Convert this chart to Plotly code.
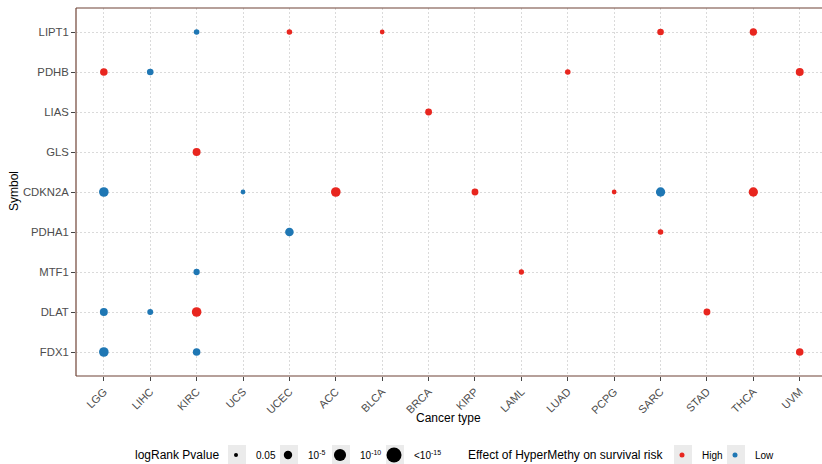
import numpy as np
import plotly.graph_objects as go

# ---------------- data ----------------
cancer_types = ["LGG", "LIHC", "KIRC", "UCS", "UCEC", "ACC", "BLCA", "BRCA",
                "KIRP", "LAML", "LUAD", "PCPG", "SARC", "STAD", "THCA", "UVM"]
gene_symbols = ["FDX1", "DLAT", "MTF1", "PDHA1", "CDKN2A", "GLS", "LIAS", "PDHB", "LIPT1"]  # bottom -> top

pt_symbol = ["LIPT1", "LIPT1", "LIPT1", "LIPT1", "LIPT1",
             "PDHB", "PDHB", "PDHB", "PDHB",
             "LIAS",
             "GLS",
             "CDKN2A", "CDKN2A", "CDKN2A", "CDKN2A", "CDKN2A", "CDKN2A", "CDKN2A",
             "PDHA1", "PDHA1",
             "MTF1", "MTF1",
             "DLAT", "DLAT", "DLAT", "DLAT",
             "FDX1", "FDX1", "FDX1"]
pt_cancer = ["KIRC", "UCEC", "BLCA", "SARC", "THCA",
             "LGG", "LIHC", "LUAD", "UVM",
             "BRCA",
             "KIRC",
             "LGG", "UCS", "ACC", "KIRP", "PCPG", "SARC", "THCA",
             "UCEC", "SARC",
             "KIRC", "LAML",
             "LGG", "LIHC", "KIRC", "STAD",
             "LGG", "KIRC", "UVM"]
pt_pvalue = [0.012, 0.012, 0.04, 0.002, 5e-4,
             3e-4, 0.002, 0.012, 1.4e-4,
             0.0012,
             1.4e-4,
             2e-6, 0.04, 2e-6, 0.0012, 0.04, 5e-6, 5e-6,
             3e-5, 0.012,
             0.0036, 0.019,
             1.4e-4, 0.007, 2e-6, 0.0012,
             2e-6, 3e-4, 3e-4]
pt_effect = ["Low", "High", "High", "High", "High",
             "High", "Low", "High", "High",
             "High",
             "High",
             "Low", "Low", "High", "High", "High", "Low", "High",
             "Low", "High",
             "Low", "High",
             "Low", "Low", "High", "High",
             "Low", "Low", "High"]

legend_pvalues = [0.05, 1e-5, 1e-10, 1e-15]
legend_plabels = ["0.05", "10<sup>-5</sup>", "10<sup>-10</sup>", "&lt;10<sup>-15</sup>"]
effect_levels = ["High", "Low"]
effect_colors = {"High": "#E8261F", "Low": "#1F77B4"}


def p_to_size(p):
    x = -np.log10(np.asarray(p, dtype=float))
    return -0.6 + 4.03 * np.sqrt(x)


FONT = "Liberation Sans, Arial, sans-serif"
W, H = 822, 464
PLOT_L, PLOT_T, PLOT_B = 76, 8, 376
PLOT_W, PLOT_H = W - PLOT_L, PLOT_B - PLOT_T

fig = go.Figure()

pt_symbol = np.array(pt_symbol)
pt_cancer = np.array(pt_cancer)
pt_pvalue = np.array(pt_pvalue)
pt_effect = np.array(pt_effect)

for lev in effect_levels:
    m = pt_effect == lev
    fig.add_trace(go.Scatter(
        x=pt_cancer[m], y=pt_symbol[m], mode="markers",
        marker=dict(size=p_to_size(pt_pvalue[m]) + 0.6, color=effect_colors[lev],
                    opacity=1, line=dict(width=0)),
        showlegend=False, hoverinfo="x+y"))

# ---- legends: one plotly legend per key so each can be placed like ggplot's guide ----
LEG_CY = 455                               # vertical centre of legend row (px)
key_px = [237, 289, 341, 395, 683, 736]   # horizontal centres of legend keys (px)
SYM_OFF = 21                               # plotly: symbol centre offset from legend left
legend_layouts = {}
entries = [(lab, "black", float(p_to_size(p))) for p, lab in zip(legend_pvalues, legend_plabels)]
entries += [(lev, effect_colors[lev], 5.0) for lev in effect_levels]
for i, (lab, col, sz) in enumerate(entries):
    lname = "legend" if i == 0 else f"legend{i + 1}"
    fig.add_trace(go.Scatter(
        x=[None], y=[None], mode="markers", name=lab, legend=lname,
        marker=dict(size=sz, color=col, opacity=1)))
    legend_layouts[lname] = dict(
        orientation="h", xref="container", yref="container",
        x=(key_px[i] - SYM_OFF) / W, xanchor="left",
        y=(H - LEG_CY) / H, yanchor="middle", font=dict(size=10, color="black"),
        bgcolor="rgba(0,0,0,0)", itemsizing="trace")

# grey key backgrounds as in ggplot legends
key_shapes = []
for c in key_px:
    key_shapes.append(dict(type="rect", xref="paper", yref="paper",
                           x0=(c - 9 - PLOT_L) / PLOT_W, x1=(c + 9 - PLOT_L) / PLOT_W,
                           y0=(PLOT_B - LEG_CY - 10) / PLOT_H, y1=(PLOT_B - LEG_CY + 10) / PLOT_H,
                           fillcolor="#EBEBEB", line=dict(width=0), layer="below"))

border = "#6F4336"
fig.update_layout(
    width=W, height=H,
    margin=dict(l=PLOT_L, r=0, t=PLOT_T, b=H - PLOT_B, autoexpand=False),
    paper_bgcolor="white", plot_bgcolor="white",
    font=dict(family=FONT, size=11, color="#4D4D4D"),
    xaxis=dict(
        type="category", categoryorder="array", categoryarray=cancer_types,
        range=[-0.6, 15.48], showgrid=True, gridcolor="#DADADA", gridwidth=0.7,
        griddash="2px,2px", zeroline=False, showline=False,
        ticks="outside", ticklen=4, tickcolor="#444", tickangle=-45,
        tickfont=dict(size=11, color="#4D4D4D"),
        automargin=False),
    yaxis=dict(
        type="category", categoryorder="array", categoryarray=gene_symbols,
        range=[-0.6, 8.6], showgrid=True, gridcolor="#DADADA", gridwidth=0.7,
        griddash="2px,2px", zeroline=False, showline=False,
        ticks="outside", ticklen=4, tickcolor="#444",
        tickfont=dict(size=11.3, color="#4D4D4D"),
        automargin=False),
    annotations=[
        dict(text="Cancer type", xref="paper", yref="paper", x=(448 - PLOT_L) / PLOT_W,
             y=(PLOT_B - 418) / PLOT_H, xanchor="center", yanchor="middle", showarrow=False,
             font=dict(size=12, color="black")),
        dict(text="Symbol", xref="paper", yref="paper", x=(14 - PLOT_L) / PLOT_W,
             y=(PLOT_B - 191) / PLOT_H, xanchor="center", yanchor="middle", showarrow=False,
             textangle=-90, font=dict(size=12, color="black")),
        dict(text="logRank Pvalue", xref="paper", yref="paper", x=(133 - PLOT_L) / PLOT_W,
             y=(PLOT_B - LEG_CY) / PLOT_H,
             xanchor="left", yanchor="middle", showarrow=False,
             font=dict(size=12, color="black")),
        dict(text="Effect of HyperMethy on survival risk", xref="paper", yref="paper",
             x=(466 - PLOT_L) / PLOT_W, y=(PLOT_B - LEG_CY) / PLOT_H,
             xanchor="left", yanchor="middle", showarrow=False,
             font=dict(size=12, color="black")),
    ],
    shapes=[
        dict(type="line", xref="paper", yref="paper", x0=0, x1=0, y0=0, y1=1,
             line=dict(color=border, width=1.2)),
        dict(type="line", xref="paper", yref="paper", x0=0, x1=1, y0=1, y1=1,
             line=dict(color=border, width=1.2)),
        dict(type="line", xref="paper", yref="paper", x0=0, x1=1, y0=0, y1=0,
             line=dict(color=border, width=1.2)),
    ] + key_shapes,
    **legend_layouts,
)

fig.write_html("out.html", config={"displayModeBar": False},
               post_script="document.body.style.margin='0px';")
